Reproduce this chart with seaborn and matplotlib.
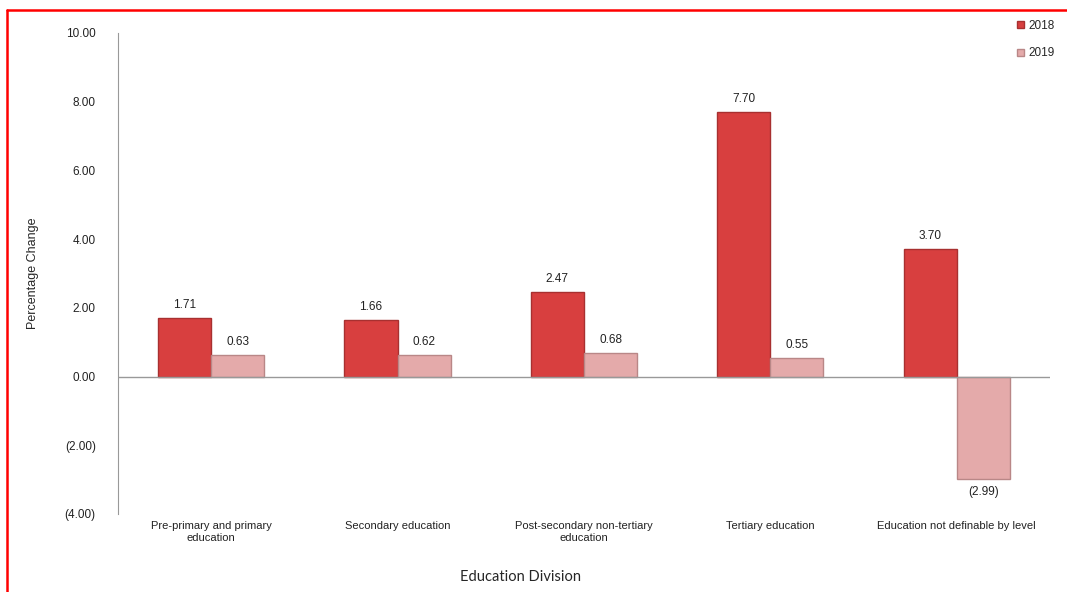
import matplotlib
matplotlib.use("Agg")
import matplotlib.pyplot as plt
import seaborn as sns
import pandas as pd
from matplotlib.lines import Line2D

categories = [
    "Pre-primary and primary\neducation",
    "Secondary education",
    "Post-secondary non-tertiary\neducation",
    "Tertiary education",
    "Education not definable by level",
]
values_2018 = [1.71, 1.66, 2.47, 7.70, 3.70]
values_2019 = [0.63, 0.62, 0.68, 0.55, -2.99]
years = ["2018", "2019"]

df = pd.DataFrame({
    "Category": categories * 2,
    "Value": values_2018 + values_2019,
    "Year": [years[0]] * len(categories) + [years[1]] * len(categories),
})

sns.set_style("white")
plt.rcParams["font.family"] = ["Liberation Sans", "DejaVu Sans"]

fig = plt.figure(figsize=(10.67, 5.92), dpi=100)
ax = fig.add_axes([0.1106, 0.1318, 0.8734, 0.8125])

palette = {"2018": "#d83f3f", "2019": "#e4aaaa"}
sns.barplot(data=df, x="Category", y="Value", hue="Year", palette=palette,
            width=0.57, ax=ax, legend=False, saturation=1)

edges = {"2018": "#a83030", "2019": "#b98787"}
for cont, yr in zip(ax.containers, years):
    for bar in cont:
        bar.set_edgecolor(edges[yr])
        bar.set_linewidth(1.0)
    labels = [f"{v:.2f}" if v >= 0 else f"({abs(v):.2f})" for v in cont.datavalues]
    ax.bar_label(cont, labels=labels, padding=5, fontsize=8.5, color="#222222")

ax.set_ylim(-4, 10)
ax.set_xlim(-0.5, len(categories) - 0.5)
ticks = [-4, -2, 0, 2, 4, 6, 8, 10]
ax.set_yticks(ticks)
ax.set_yticklabels([f"{t:.2f}" if t >= 0 else f"({abs(t):.2f})" for t in ticks],
                   fontsize=8.5, color="#222222")
ax.tick_params(axis="y", length=4, color="#999999", direction="out", pad=12)
ax.tick_params(axis="x", length=0, pad=5, labelsize=8, labelcolor="#222222")

for s in ["top", "right", "bottom"]:
    ax.spines[s].set_visible(False)
ax.spines["left"].set_color("#999999")
ax.axhline(0, color="#999999", lw=1)

ax.set_ylabel("Percentage Change", fontsize=9,
              family=["Liberation Sans Narrow", "Liberation Sans"], stretch="condensed")
ax.yaxis.set_label_coords(-0.085, 0.5)
ax.set_xlabel("Education Division", fontsize=10.5, family=["Lato", "DejaVu Sans"])
ax.xaxis.set_label_coords(0.432, -0.117)

handles = [plt.Rectangle((0, 0), 1, 1, facecolor=palette[y], edgecolor=edges[y]) for y in years]
fig.legend(handles, years, loc="upper right", bbox_to_anchor=(0.998, 0.985), frameon=False,
           fontsize=8.5, handlelength=0.6, handleheight=0.6, handletextpad=0.3,
           labelspacing=1.35)

# red frame on the left and top edge
fig.add_artist(Line2D([7 / 1067, 7 / 1067], [0, 1 - 10 / 592], color="red", lw=1.8,
                      transform=fig.transFigure))
fig.add_artist(Line2D([7 / 1067, 1], [1 - 10 / 592, 1 - 10 / 592], color="red", lw=1.8,
                      transform=fig.transFigure))

fig.savefig("out.png", dpi=100)
